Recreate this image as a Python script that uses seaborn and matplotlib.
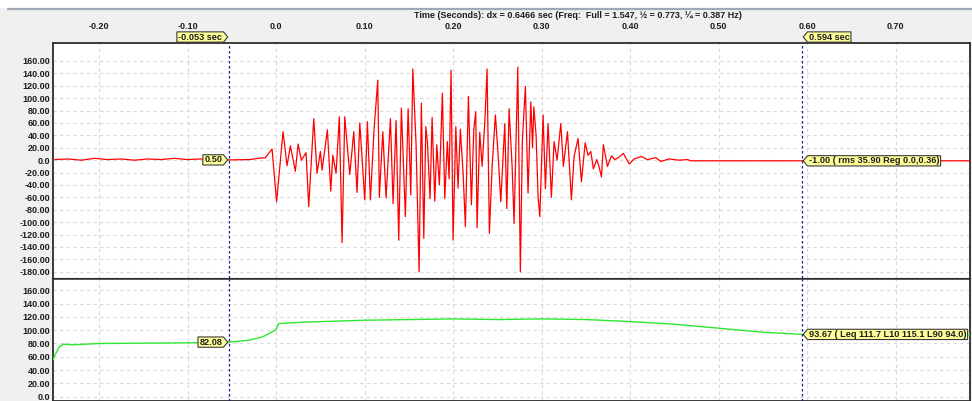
import matplotlib
matplotlib.use("Agg")
import matplotlib.pyplot as plt
import seaborn as sns
import pandas as pd
from matplotlib.path import Path
from matplotlib.lines import Line2D
from matplotlib.patches import Rectangle

# ---------------- data ----------------
sig_t = [-0.250, -0.235, -0.220, -0.205, -0.190, -0.175, -0.160, -0.145, -0.130, -0.115,
         -0.100, -0.085, -0.070, -0.053, -0.040, -0.030, -0.020, -0.012, -0.0045,
         0.0006, 0.0079, 0.0124, 0.0162, 0.0218, 0.0249, 0.0286, 0.0339, 0.0369, 0.0426,
         0.0463, 0.0501, 0.0520, 0.0580, 0.0618, 0.0641, 0.0678, 0.0715, 0.0746, 0.0776,
         0.0833, 0.0878, 0.0915, 0.0946, 0.1002, 0.1032, 0.1066, 0.1107, 0.1149, 0.1167,
         0.1206, 0.1243, 0.1292, 0.1322, 0.1356, 0.1386, 0.1416, 0.1461, 0.1492, 0.1522,
         0.1545, 0.1582, 0.1616, 0.1642, 0.1669, 0.1692, 0.1710, 0.1740, 0.1763, 0.1793,
         0.1816, 0.1845, 0.1879, 0.1906, 0.1935, 0.1955, 0.1977, 0.2000, 0.2031, 0.2056,
         0.2082, 0.2113, 0.2139, 0.2173, 0.2207, 0.2234, 0.2256, 0.2271, 0.2301, 0.2328,
         0.2358, 0.2384, 0.2410, 0.2441, 0.2478, 0.2508, 0.2539, 0.2584, 0.2607, 0.2633,
         0.2667, 0.2689, 0.2731, 0.2760, 0.2783, 0.2817, 0.2847, 0.2878, 0.2898, 0.2912,
         0.2938, 0.2960, 0.2980, 0.3017, 0.3043, 0.3073, 0.3111, 0.3141, 0.3175, 0.3217,
         0.3246, 0.3292, 0.3337, 0.3367, 0.3412, 0.3450, 0.3492, 0.3525, 0.3556, 0.3585,
         0.3624, 0.3650, 0.3676, 0.3698, 0.3744, 0.3789, 0.3827, 0.3876, 0.3924, 0.3989,
         0.4045, 0.4128, 0.4195, 0.4290, 0.4347, 0.4441, 0.4554, 0.4647, 0.4686, 0.594,
         0.784]
sig_v = [1, 2, 0, 3, 1, 2, 0, 2, 1, 3,
         1, 2, 0, 0.5, 1, 1, 3, 4, 18,
         -67, 46, -9, 23, -18, 26, 0, 12, -75, 67,
         -21, 14, -16, 49, -50, 8, -21, 70, -133, 70,
         -23, 46, -52, 60, -64, 62, -64, 49, 129, -60,
         46, -61, 67, -70, 64, -129, 84, -91, 83, -56,
         147, 25, -180, 92, -126, 54, 30, -62, 69, -66,
         25, -40, 108, -62, 30, -30, 145, -129, 54, -45,
         50, -20, -107, 103, -72, 50, 78, -109, 45, -10,
         60, 147, -118, -10, 73, 10, -67, 59, -78, 83,
         -10, -102, 150, -180, 33, 119, -53, 94, 20, 86,
         40, -59, -91, 73, -46, 59, -60, 30, 0, 59,
         -10, 46, -64, 6, 35, -35, 28, 8, 14, -14,
         1, -11, -27, 25, -10, 7, 1, 5, 11, -6,
         2, 6, 1, 4, -2, 2, 0, 1, -1, -1,
         -1]

lvl_t = [-0.252, -0.250, -0.245, -0.240, -0.230, -0.200, -0.100, -0.053, -0.030, -0.015,
         -0.005, 0.000, 0.003, 0.030, 0.100, 0.150, 0.200, 0.250, 0.300, 0.350,
         0.400, 0.450, 0.500, 0.550, 0.594, 0.650, 0.784]
lvl_v = [55, 62, 75, 79, 78, 80, 81, 82.08, 85, 90,
         97, 101, 110, 112, 115, 116, 117, 116, 117, 116,
         113, 109, 103, 97, 93.67, 93, 93]

x_ticks = [-0.2, -0.1, 0.0, 0.1, 0.2, 0.3, 0.4, 0.5, 0.6, 0.7]
x_tick_labels = ["-0.20", "-0.10", "0.0", "0.10", "0.20", "0.30", "0.40", "0.50", "0.60", "0.70"]
top_y_ticks = list(range(-180, 161, 20))
bottom_y_ticks = list(range(0, 161, 20))

cursor_a, cursor_b = -0.053, 0.594
sig_at_a, sig_at_b = 0.50, -1.00
lvl_at_a, lvl_at_b = 82.08, 93.67
sig_stats = "( rms 35.90 Reg 0.0,0.36)"
lvl_stats = "( Leq 111.7 L10 115.1 L90 94.0)"
header = "Time (Seconds): dx = 0.6466 sec (Freq:  Full = 1.547, \u00bd = 0.773, \u00bc = 0.387 Hz)"

# ---------------- styling ----------------
sns.set_style("white")
plt.rcParams["font.family"] = ["Liberation Sans", "DejaVu Sans"]
BG = "#f0f0f0"
TXT = "#1e1e1e"
GRID = "#d9d9d9"
CURSOR = "#1c1c8a"
TAG_FACE = "#ffff99"
FS = 6.5

fig = plt.figure(figsize=(9.72, 4.01), dpi=100, facecolor=BG)
W, H = 972.0, 401.0
L, R = 53, 970
ax1 = fig.add_axes([L / W, (H - 278) / H, (R - L) / W, (278 - 43) / H])
ax2 = fig.add_axes([L / W, 0.0, (R - L) / W, (H - 279) / H])

# white strip + rule at the very top
fig.patches.append(Rectangle((0, (H - 8) / H), 1, 8 / H, transform=fig.transFigure,
                             facecolor="white", edgecolor="none", zorder=0))
fig.lines.append(Line2D([8 / W, 1], [(H - 8.5) / H] * 2, transform=fig.transFigure,
                        color="#9ea9b6", lw=1.6))

df_sig = pd.DataFrame({"t": sig_t, "v": sig_v})
df_lvl = pd.DataFrame({"t": lvl_t, "v": lvl_v})

sns.lineplot(data=df_sig, x="t", y="v", ax=ax1, color="#ff0000", lw=0.9,
             sort=False, estimator=None, zorder=3)
sns.lineplot(data=df_lvl, x="t", y="v", ax=ax2, color="#2ee82e", lw=1.0,
             sort=False, estimator=None, zorder=3)

xlim = (-0.252, 0.784)
for ax in (ax1, ax2):
    ax.set_facecolor("white")
    ax.set_xlim(*xlim)
    ax.set_xlabel("")
    ax.set_ylabel("")
    ax.set_xticks(x_ticks)
    ax.grid(True, color=GRID, lw=0.8, ls=(0, (3, 3)))
    for s in ax.spines.values():
        s.set_color("#2b2b2b")
        s.set_linewidth(1.3)
    ax.tick_params(length=0, labelsize=FS, colors=TXT, pad=2)
    for c in (cursor_a, cursor_b):
        ax.axvline(c, color=CURSOR, lw=0.9, ls=(0, (2, 2)), zorder=4)

ax1.spines["bottom"].set_linewidth(0.8)
ax2.spines["top"].set_linewidth(1.1)

ax1.set_ylim(-190, 189)
ax1.set_yticks(top_y_ticks)
ax1.set_yticklabels(["0.0" if v == 0 else f"{v:.2f}" for v in top_y_ticks], fontweight="bold")
ax1.xaxis.set_ticks_position("top")
ax1.set_xticklabels(x_tick_labels, fontweight="bold")
ax1.tick_params(axis="x", pad=8.4)

ax2.set_ylim(-6.5, 177)
ax2.set_yticks(bottom_y_ticks)
ax2.set_yticklabels(["0.0" if v == 0 else f"{v:.2f}" for v in bottom_y_ticks], fontweight="bold")
ax2.set_xticklabels([])

fig.text(578 / W, (H - 16) / H, header, ha="center", va="center", fontsize=FS,
         fontweight="bold", color=TXT)


def tag_style(direction):
    def style(x0, y0, width, height, mutation_size):
        pad = 0.14 * mutation_size
        x0 -= pad
        y0 -= pad * 0.5
        width += 2 * pad
        height += pad
        tip = height * 0.42
        if direction == "right":
            verts = [(x0, y0), (x0 + width, y0), (x0 + width + tip, y0 + height / 2),
                     (x0 + width, y0 + height), (x0, y0 + height), (x0, y0)]
        else:
            verts = [(x0, y0), (x0 + width, y0), (x0 + width, y0 + height),
                     (x0, y0 + height), (x0 - tip, y0 + height / 2), (x0, y0)]
        return Path(verts, closed=True)
    return style


def tag(ax, text, xy, direction, xycoords="data", dy=0):
    dx = -7 if direction == "right" else 7
    ha = "right" if direction == "right" else "left"
    ax.annotate(text, xy=xy, xycoords=xycoords, xytext=(dx, dy), textcoords="offset pixels",
                ha=ha, va="center", fontsize=6.6, fontweight="bold", color=TXT,
                annotation_clip=False, zorder=6,
                bbox=dict(boxstyle=tag_style(direction), facecolor=TAG_FACE,
                          edgecolor="#3a3a3a", lw=0.8))


tag(ax1, f"{cursor_a:.3f} sec", (cursor_a, 1.0), "right", xycoords=("data", "axes fraction"), dy=6)
tag(ax1, f"{cursor_b:.3f} sec", (cursor_b, 1.0), "left", xycoords=("data", "axes fraction"), dy=6)
tag(ax1, f"{sig_at_a:.2f}", (cursor_a, sig_at_a), "right")
tag(ax1, f"{sig_at_b:.2f} {sig_stats}", (cursor_b, sig_at_b), "left")
tag(ax2, f"{lvl_at_a:.2f}", (cursor_a, lvl_at_a), "right")
tag(ax2, f"{lvl_at_b:.2f} {lvl_stats}", (cursor_b, lvl_at_b), "left")

fig.savefig("out.png", dpi=100, facecolor=BG)
